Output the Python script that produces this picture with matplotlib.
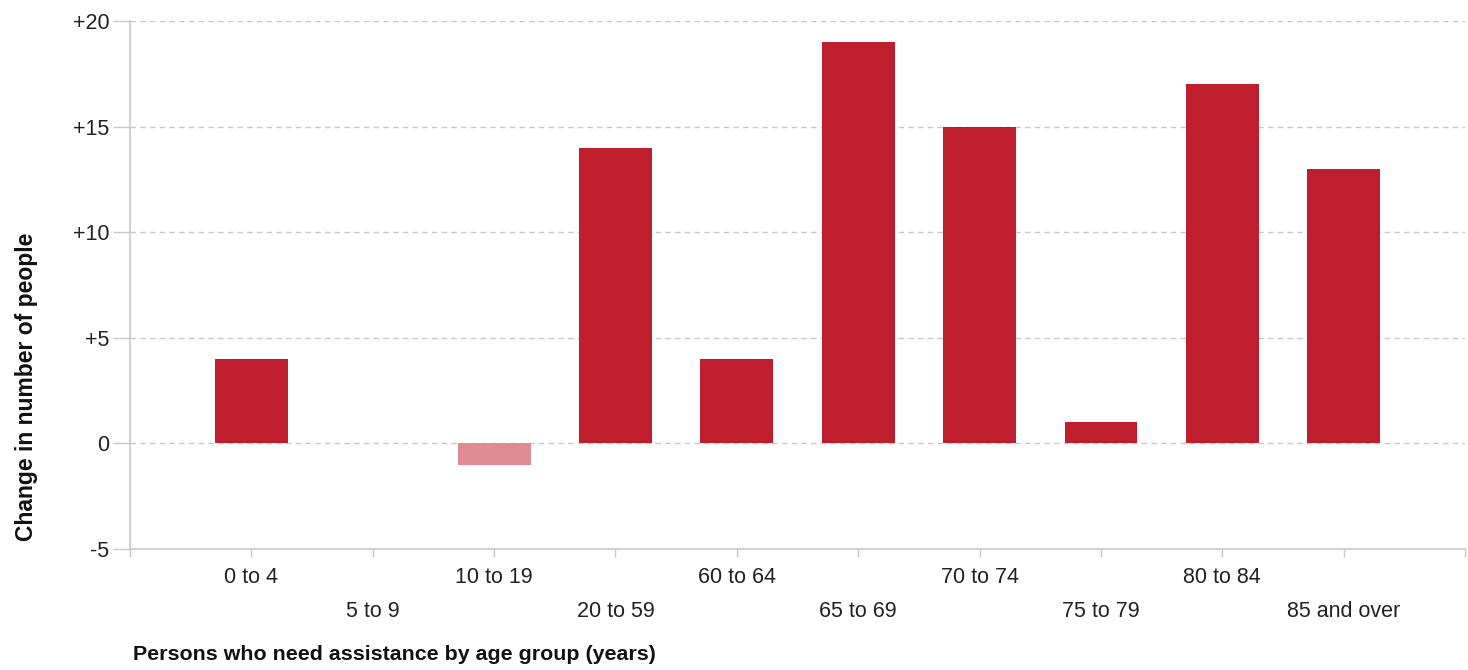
import numpy as np
import matplotlib.pyplot as plt

# data
age_groups = ['0 to 4', '5 to 9', '10 to 19', '20 to 59', '60 to 64',
              '65 to 69', '70 to 74', '75 to 79', '80 to 84', '85 and over']
change = [4, 0, -1, 14, 4, 19, 15, 1, 17, 13]
y_ticks = [-5, 0, 5, 10, 15, 20]
y_tick_labels = ['-5', '0', '+5', '+10', '+15', '+20']

RED = '#BE1E2D'
PINK = '#E08A96'
GRID = '#C8C8C8'

plt.rcParams['font.family'] = ['Liberation Sans', 'DejaVu Sans']

fig = plt.figure(figsize=(14.68, 6.70), dpi=100)
ax = fig.add_axes([130 / 1468, 1 - 549 / 670, (1465 - 130) / 1468, (549 - 21) / 670])

x = np.arange(len(age_groups))
colors = [RED if v >= 0 else PINK for v in change]
ax.bar(x, change, width=0.6, color=colors, zorder=3)

ax.set_ylim(-5, 20)
ax.set_xlim(-1, len(age_groups))

# horizontal dashed gridlines
ax.set_yticks(y_ticks)
ax.set_yticklabels(y_tick_labels)
ax.yaxis.grid(True, linestyle=(0, (4, 3)), color=GRID, linewidth=1, zorder=0)
ax.tick_params(axis='y', length=12, width=1, color=GRID, pad=3,
               labelsize=15.5, labelcolor='#222222')

# staggered category labels, ticks between -1 and n
ticks = np.arange(-1, len(age_groups) + 1)
labels = ['']
for i, name in enumerate(age_groups):
    labels.append(name if i % 2 == 0 else '\n' + name)
labels.append('')
ax.set_xticks(ticks)
ax.set_xticklabels(labels, linespacing=1.8)
ax.tick_params(axis='x', length=6, width=1, color=GRID, pad=7,
               labelsize=15.5, labelcolor='#222222')

for side in ['top', 'right']:
    ax.spines[side].set_visible(False)
for side in ['left', 'bottom']:
    ax.spines[side].set_color(GRID)
    ax.spines[side].set_linewidth(1.2)

fig.text(27 / 1468, 1 - 387 / 670, 'Change in number of people', rotation=90,
         ha='center', va='center', fontsize=16.5, fontweight='bold', color='#111111')
fig.text(133 / 1468, 1 - 655 / 670, 'Persons who need assistance by age group (years)',
         ha='left', va='center', fontsize=15.4, fontweight='bold', color='#111111')

fig.savefig('out.png', dpi=100)
